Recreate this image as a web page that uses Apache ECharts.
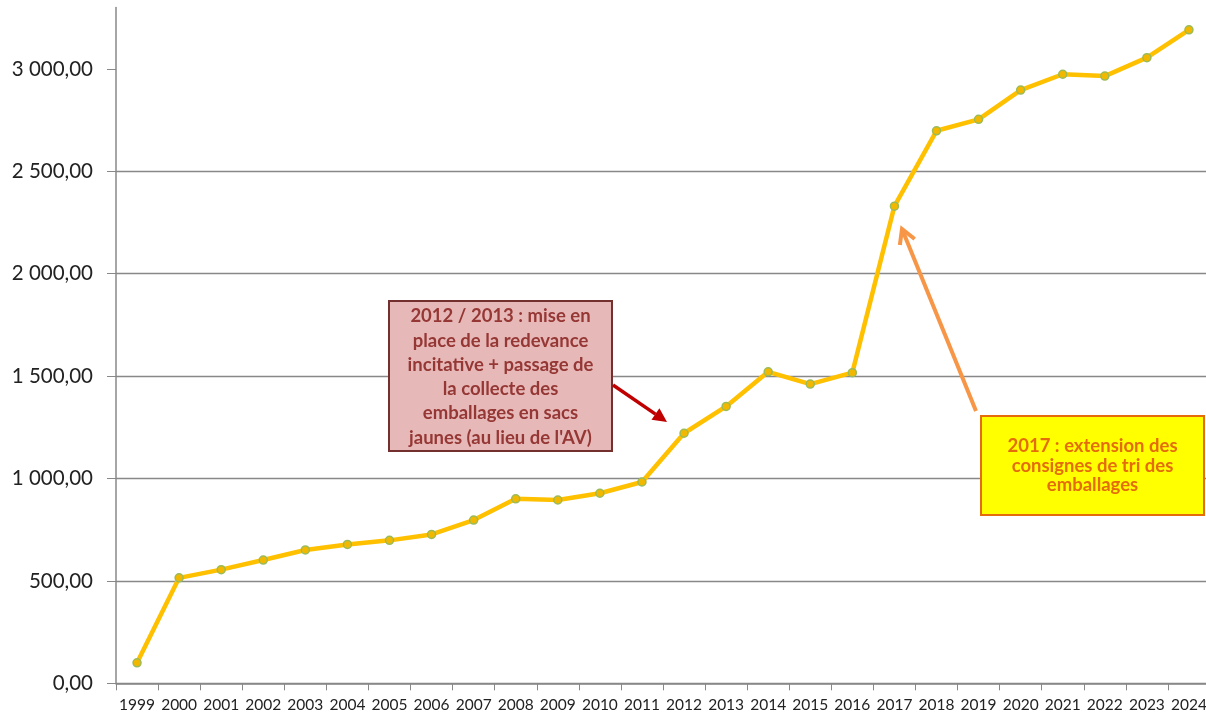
<!DOCTYPE html>
<html>
<head>
<meta charset="utf-8">
<script src="https://cdn.jsdelivr.net/npm/echarts@6/dist/echarts.min.js"></script>
<style>
  html, body { margin: 0; padding: 0; background: #fff; }
  #chart { width: 1206px; height: 715px; }
</style>
</head>
<body>
<div id="chart"></div>
<script>
const years = ['1999', '2000', '2001', '2002', '2003', '2004', '2005', '2006', '2007', '2008',
  '2009', '2010', '2011', '2012', '2013', '2014', '2015', '2016', '2017', '2018',
  '2019', '2020', '2021', '2022', '2023', '2024']
const tonnage = [100, 515, 555, 602, 651, 678, 698, 727, 797, 901,
  895, 928, 983, 1221, 1352, 1521, 1461, 1517, 2330, 2698,
  2754, 2897, 2974, 2965, 3055, 3191]
const yTicks = [0, 500, 1000, 1500, 2000, 2500, 3000]

const note2012 = ['2012 / 2013 : mise en', 'place de la redevance', 'incitative + passage de',
  'la collecte des', 'emballages en sacs', 'jaunes (au lieu de l\'AV)']
const note2017 = ['2017 : extension des', 'consignes de tri des', 'emballages']

const gridColor = '#888'
const fontFamily = 'Lato, "Open Sans", sans-serif'

function fmt (v) {
  const s = Math.round(v).toString().replace(/\B(?=(\d{3})+(?!\d))/g, ' ')
  return s + ',00'
}

// arrow: shaft + head, filled or open
function arrow (x1, y1, x2, y2, color, width, headLen, headHalf, filled) {
  const len = Math.hypot(x2 - x1, y2 - y1)
  const dx = (x2 - x1) / len
  const dy = (y2 - y1) / len
  const bx = x2 - dx * headLen
  const by = y2 - dy * headLen
  const nx = -dy * headHalf
  const ny = dx * headHalf
  const els = []
  els.push({
    type: 'line',
    shape: { x1: x1, y1: y1, x2: filled ? bx : x2, y2: filled ? by : y2 },
    style: { stroke: color, lineWidth: width, lineCap: 'butt' },
    z: 20
  })
  if (filled) {
    els.push({
      type: 'polygon',
      shape: { points: [[x2, y2], [bx + nx, by + ny], [bx - nx, by - ny]] },
      style: { fill: color },
      z: 20
    })
  } else {
    els.push({
      type: 'polyline',
      shape: { points: [[bx + nx, by + ny], [x2, y2], [bx - nx, by - ny]] },
      style: { stroke: color, lineWidth: width, fill: null, lineJoin: 'miter' },
      z: 20
    })
  }
  return els
}

const chart = echarts.init(document.getElementById('chart'))

const option = {
  animation: false,
  backgroundColor: '#fff',
  grid: {
    left: 116,
    right: -4,
    top: 7.5,
    bottom: 31.7,
    containLabel: false,
    outerBoundsMode: 'none'
  },
  xAxis: {
    type: 'category',
    data: years,
    boundaryGap: true,
    axisLine: { lineStyle: { color: gridColor, width: 1.5 } },
    axisTick: { show: true, length: 7, lineStyle: { color: gridColor, width: 1 } },
    axisLabel: {
      interval: 0,
      margin: 14,
      color: '#222',
      fontFamily: fontFamily,
      fontSize: 15.5
    },
    splitLine: { show: false }
  },
  yAxis: {
    type: 'value',
    min: 0,
    max: 3300,
    interval: 500,
    axisLine: { show: true, lineStyle: { color: gridColor, width: 1.5 } },
    axisTick: { show: true, length: 9, customValues: yTicks, lineStyle: { color: gridColor } },
    axisLabel: {
      customValues: yTicks,
      margin: 23,
      color: '#222',
      fontFamily: fontFamily,
      fontSize: 20.5,
      formatter: fmt
    },
    splitLine: { show: true, showMaxLine: false, lineStyle: { color: gridColor, width: 1.3 } }
  },
  series: [{
    type: 'line',
    data: tonnage,
    symbol: 'circle',
    symbolSize: 8,
    lineStyle: { color: '#FFC000', width: 4.5 },
    itemStyle: { color: '#F2B800', borderColor: '#9BBB59', borderWidth: 1.5 },
    emphasis: { disabled: true },
    z: 5
  }],
  graphic: [
    {
      type: 'rect',
      shape: { x: 389, y: 301, width: 223, height: 150 },
      style: { fill: '#E6B9B8', stroke: '#74302E', lineWidth: 2 },
      z: 10
    },
    {
      type: 'text',
      x: 500.5,
      y: 377,
      style: {
        text: note2012.join('\n'),
        align: 'center',
        verticalAlign: 'middle',
        font: 'bold 18.5px ' + fontFamily,
        lineHeight: 24.3,
        fill: '#953735'
      },
      z: 11
    },
    ...arrow(613, 385, 667, 422, '#C00000', 3.5, 14, 7, true),
    {
      type: 'rect',
      shape: { x: 981, y: 416, width: 223, height: 99 },
      style: { fill: '#FFFF00', stroke: '#E46C0A', lineWidth: 2 },
      z: 10
    },
    {
      type: 'text',
      x: 1092.5,
      y: 466,
      style: {
        text: note2017.join('\n'),
        align: 'center',
        verticalAlign: 'middle',
        font: 'bold 18.5px ' + fontFamily,
        lineHeight: 19.5,
        fill: '#E46C0A'
      },
      z: 11
    },
    ...arrow(976, 411, 902, 229, '#F79646', 4, 14, 8, false)
  ]
}

chart.setOption(option)
</script>
</body>
</html>
